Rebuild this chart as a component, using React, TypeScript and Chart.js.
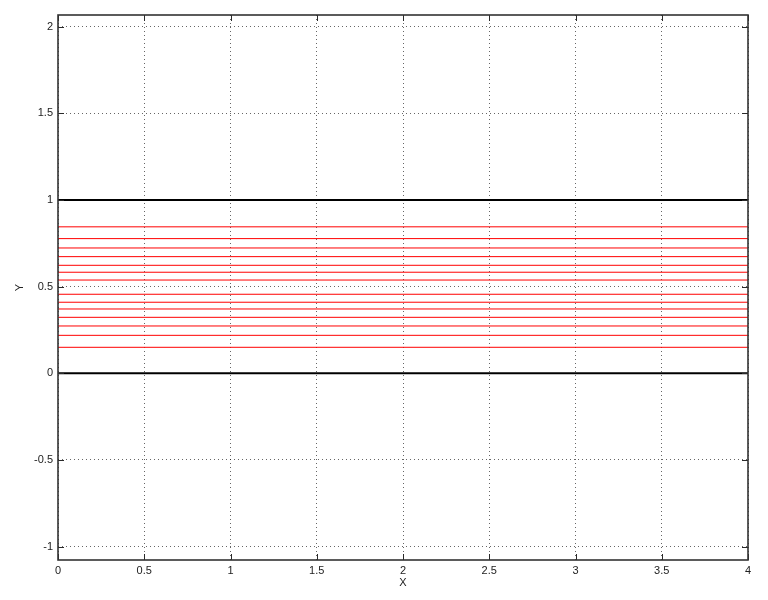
import React, { useEffect, useRef } from "react";
import { Chart, registerables } from "chart.js";

Chart.register(...registerables);

const xEnds = [0, 4];
const xTicks = [0, 0.5, 1, 1.5, 2, 2.5, 3, 3.5, 4];
const yTicks = [-1, -0.5, 0, 0.5, 1, 1.5, 2];
const blackLevels = [0, 1];
const redLevels = [0.845, 0.777, 0.723, 0.673, 0.623, 0.583, 0.538, 0.456, 0.41, 0.371, 0.323, 0.273, 0.219, 0.15];
const xLabel = "X";
const yLabel = "Y";

const FONT = "'Liberation Sans', Arial, sans-serif";

const boxPlugin = {
  id: "matlabBox",
  afterDraw(chart: any) {
    const { ctx, chartArea } = chart;
    const { left, right, top, bottom } = chartArea;
    const xs = chart.scales.x;
    const ys = chart.scales.y;
    const tl = 6;
    ctx.save();
    ctx.strokeStyle = "#2a2a2a";
    ctx.lineWidth = 1;
    ctx.beginPath();
    for (const v of xTicks) {
      const px = Math.round(xs.getPixelForValue(v)) + 0.5;
      ctx.moveTo(px, bottom);
      ctx.lineTo(px, bottom - tl);
      ctx.moveTo(px, top);
      ctx.lineTo(px, top + tl);
    }
    for (const v of yTicks) {
      const py = Math.round(ys.getPixelForValue(v)) + 0.5;
      ctx.moveTo(left, py);
      ctx.lineTo(left + tl, py);
      ctx.moveTo(right, py);
      ctx.lineTo(right - tl, py);
    }
    ctx.stroke();
    ctx.lineWidth = 1.6;
    ctx.strokeStyle = "#333";
    ctx.strokeRect(left, top, right - left, bottom - top);
    ctx.restore();
  },
};

export default function App() {
  const ref = useRef<HTMLCanvasElement>(null);
  useEffect(() => {
    document.body.style.margin = "0";
    const datasets: any[] = [];
    for (const v of redLevels) {
      datasets.push({
        data: xEnds.map((x) => ({ x, y: v })),
        borderColor: "#ff0000",
        borderWidth: 1,
        pointRadius: 0,
      });
    }
    for (const v of blackLevels) {
      datasets.push({
        data: xEnds.map((x) => ({ x, y: v })),
        borderColor: "#000000",
        borderWidth: 2,
        pointRadius: 0,
      });
    }
    const tickFont = { family: FONT, size: 11 };
    const chart = new Chart(ref.current!, {
      type: "line",
      data: { datasets },
      options: {
        animation: false,
        responsive: false,
        maintainAspectRatio: false,
        layout: { padding: { top: 15, right: 20, left: 0, bottom: 0 } },
        plugins: { legend: { display: false }, tooltip: { enabled: false } },
        scales: {
          x: {
            type: "linear",
            min: 0,
            max: 4,
            afterFit: (s: any) => {
              s.height = 40;
            },
            ticks: {
              stepSize: 0.5,
              includeBounds: false,
              maxRotation: 0,
              autoSkip: false,
              padding: 4,
              color: "#222",
              font: tickFont,
              callback: (v: any) => String(Math.round(Number(v) * 100) / 100),
            },
            grid: { color: "rgba(0,0,0,0.6)", drawTicks: false, lineWidth: 1 },
            border: { display: false, dash: [1, 3] },
            title: {
              display: true,
              text: xLabel,
              color: "#222",
              font: tickFont,
              padding: { top: 0, bottom: 10 },
            },
          },
          y: {
            type: "linear",
            min: -1.077,
            max: 2.067,
            afterFit: (s: any) => {
              s.width = 58;
            },
            ticks: {
              stepSize: 0.5,
              includeBounds: false,
              autoSkip: false,
              padding: 5,
              color: "#222",
              font: tickFont,
              callback: (v: any) => String(Math.round(Number(v) * 100) / 100),
            },
            grid: { color: "rgba(0,0,0,0.6)", drawTicks: false, lineWidth: 1 },
            border: { display: false, dash: [1, 3] },
            title: {
              display: true,
              text: yLabel,
              color: "#222",
              font: tickFont,
              padding: { top: 13, bottom: 0 },
            },
          },
        },
      },
      plugins: [boxPlugin],
    });
    return () => chart.destroy();
  }, []);
  return (
    <div style={{ width: 768, height: 600, background: "#fff" }}>
      <canvas ref={ref} width={768} height={600} style={{ display: "block" }} />
    </div>
  );
}
